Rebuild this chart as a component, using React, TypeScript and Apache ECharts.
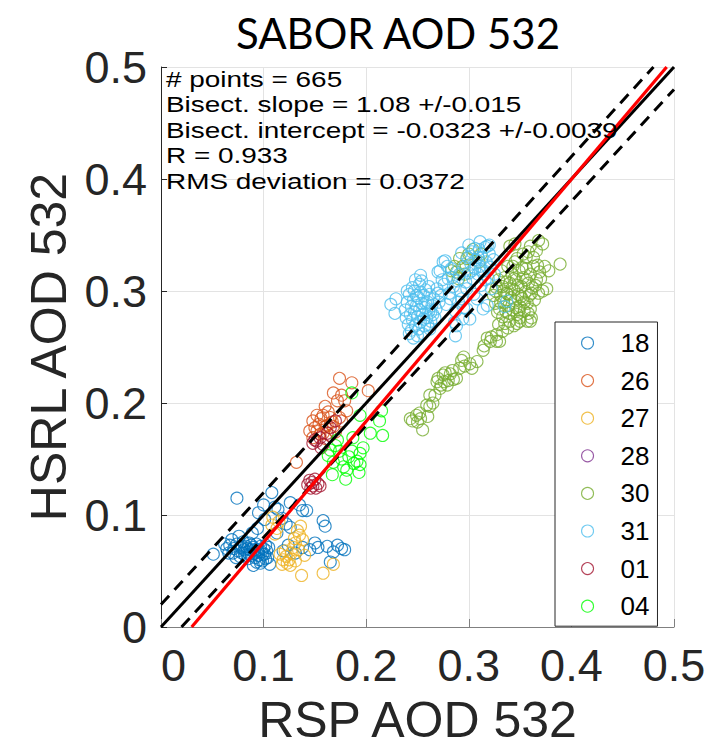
import React, { useEffect, useRef } from "react";
import * as echarts from "echarts";

// ---- data ----
const groupNames = ["18", "26", "27", "28", "30", "31", "01", "04"];
const groupColors = ["#0072BD", "#D95319", "#EDB120", "#7E2F8E", "#77AC30", "#4DBEEE", "#A2142F", "#00FF00"];

const pts18 = [
  [0.051,0.065],[0.074,0.115],[0.062,0.074],[0.064,0.070],[0.066,0.066],[0.067,0.073],[0.069,0.078],[0.070,0.066],
  [0.071,0.070],[0.073,0.062],[0.074,0.074],[0.075,0.068],[0.076,0.081],[0.077,0.063],[0.078,0.071],[0.079,0.066],
  [0.080,0.076],[0.081,0.069],[0.082,0.064],[0.083,0.072],[0.084,0.067],[0.085,0.061],[0.086,0.075],[0.087,0.069],
  [0.088,0.064],[0.089,0.084],[0.090,0.071],[0.090,0.055],[0.091,0.066],[0.092,0.062],[0.093,0.074],[0.094,0.069],
  [0.095,0.064],[0.096,0.060],[0.097,0.072],[0.098,0.067],[0.099,0.059],[0.100,0.070],[0.101,0.065],[0.102,0.073],
  [0.103,0.068],[0.104,0.062],[0.106,0.056],[0.105,0.071],[0.094,0.088],[0.095,0.102],[0.100,0.109],[0.101,0.096],
  [0.108,0.120],[0.111,0.107],[0.114,0.105],[0.118,0.097],[0.122,0.092],[0.126,0.089],[0.126,0.111],[0.135,0.109],
  [0.138,0.104],[0.142,0.104],[0.119,0.068],[0.124,0.073],[0.138,0.071],[0.145,0.069],[0.150,0.075],[0.153,0.071],
  [0.158,0.095],[0.160,0.090],[0.162,0.072],[0.165,0.058],[0.168,0.067],[0.172,0.073],[0.176,0.070],[0.179,0.069],
  [0.131,0.066],[0.113,0.084],[0.079,0.072],[0.084,0.070],[0.088,0.073],[0.091,0.069],[0.095,0.067],[0.099,0.065],
  [0.102,0.061],[0.086,0.065],[0.093,0.058],[0.097,0.057]
];
const pts26 = [
  [0.132,0.147],[0.148,0.169],[0.148,0.184],[0.150,0.178],[0.152,0.175],[0.152,0.189],[0.154,0.181],[0.155,0.172],
  [0.156,0.186],[0.158,0.173],[0.158,0.189],[0.160,0.179],[0.161,0.168],[0.162,0.180],[0.163,0.192],[0.165,0.171],
  [0.165,0.187],[0.167,0.183],[0.168,0.179],[0.168,0.209],[0.170,0.174],[0.172,0.202],[0.174,0.187],[0.174,0.222],
  [0.176,0.184],[0.176,0.207],[0.179,0.202],[0.181,0.193],[0.186,0.218],[0.202,0.211],[0.160,0.197],[0.145,0.175]
];
const pts27 = [
  [0.108,0.091],[0.109,0.098],[0.111,0.083],[0.113,0.088],[0.115,0.094],[0.116,0.065],[0.118,0.056],[0.119,0.060],
  [0.121,0.068],[0.122,0.063],[0.123,0.057],[0.125,0.060],[0.127,0.066],[0.129,0.071],[0.130,0.079],[0.131,0.075],
  [0.131,0.059],[0.133,0.086],[0.134,0.069],[0.135,0.082],[0.137,0.046],[0.138,0.078],[0.140,0.064],[0.126,0.055],
  [0.158,0.048],[0.168,0.056],[0.136,0.090]
];
const pts28: number[][] = [];
const pts30 = [
  [0.243,0.186],[0.245,0.184],[0.249,0.189],[0.250,0.183],[0.252,0.191],[0.253,0.186],[0.255,0.176],[0.259,0.198],
  [0.260,0.188],[0.262,0.207],[0.262,0.197],[0.265,0.200],[0.267,0.207],[0.269,0.219],[0.270,0.222],[0.272,0.213],
  [0.273,0.216],[0.275,0.225],[0.276,0.219],[0.277,0.227],[0.279,0.216],[0.280,0.220],[0.282,0.226],[0.284,0.229],
  [0.285,0.221],[0.288,0.222],[0.291,0.231],[0.293,0.238],[0.295,0.241],[0.296,0.233],[0.301,0.235],[0.303,0.231],
  [0.308,0.237],[0.314,0.247],[0.315,0.251],[0.318,0.258],[0.321,0.255],[0.322,0.259],[0.327,0.261],[0.327,0.255],
  [0.330,0.255],[0.333,0.264],[0.335,0.271],[0.347,0.271],[0.350,0.273],[0.357,0.273],[0.360,0.273],[0.361,0.276],
  [0.324,0.296],[0.326,0.289],[0.327,0.303],[0.328,0.281],[0.329,0.310],[0.330,0.284],[0.331,0.296],[0.332,0.318],
  [0.333,0.277],[0.333,0.304],[0.334,0.290],[0.335,0.312],[0.336,0.282],[0.337,0.298],[0.338,0.322],[0.339,0.287],
  [0.340,0.273],[0.340,0.307],[0.341,0.294],[0.342,0.315],[0.343,0.283],[0.344,0.301],[0.345,0.291],[0.345,0.326],
  [0.346,0.310],[0.347,0.279],[0.348,0.297],[0.349,0.318],[0.350,0.286],[0.350,0.276],[0.351,0.304],[0.352,0.293],
  [0.353,0.312],[0.353,0.333],[0.354,0.282],[0.355,0.299],[0.356,0.320],[0.357,0.289],[0.358,0.307],[0.359,0.296],
  [0.360,0.284],[0.360,0.315],[0.362,0.303],[0.363,0.322],[0.364,0.292],[0.366,0.336],[0.366,0.310],[0.368,0.298],
  [0.369,0.317],[0.372,0.300],[0.372,0.342],[0.376,0.302],[0.389,0.324],[0.360,0.340],[0.345,0.342],[0.340,0.340],
  [0.347,0.329],[0.356,0.330],[0.283,0.318],[0.286,0.322],[0.288,0.317],[0.291,0.329],[0.294,0.322],[0.298,0.329],
  [0.304,0.337],[0.300,0.333],[0.310,0.326],[0.312,0.333],[0.290,0.311],[0.296,0.315],
  [0.331,0.290],[0.334,0.300],[0.337,0.308],[0.339,0.280],[0.342,0.302],[0.344,0.311],[0.346,0.285],[0.348,0.305],
  [0.351,0.295],[0.352,0.321],[0.354,0.290],[0.356,0.310],[0.358,0.280],[0.361,0.298],[0.363,0.330],[0.365,0.305],
  [0.367,0.323],[0.370,0.311],[0.374,0.322],[0.378,0.318],[0.368,0.345],[0.358,0.335],[0.343,0.322],[0.338,0.297],
  [0.349,0.283],[0.326,0.300],[0.329,0.270],[0.338,0.267],[0.344,0.269]
];
const pts31 = [
  [0.224,0.288],[0.228,0.280],[0.229,0.293],[0.238,0.283],[0.239,0.276],[0.240,0.290],[0.241,0.270],[0.242,0.297],
  [0.243,0.279],[0.244,0.286],[0.244,0.265],[0.245,0.274],[0.246,0.292],[0.247,0.281],[0.247,0.300],[0.248,0.269],
  [0.249,0.287],[0.250,0.277],[0.250,0.260],[0.251,0.294],[0.252,0.283],[0.252,0.306],[0.253,0.272],[0.254,0.289],
  [0.254,0.309],[0.255,0.279],[0.255,0.262],[0.256,0.296],[0.257,0.285],[0.257,0.269],[0.258,0.301],[0.259,0.276],
  [0.260,0.290],[0.261,0.282],[0.262,0.266],[0.262,0.297],[0.263,0.273],[0.264,0.287],[0.265,0.279],[0.266,0.293],
  [0.268,0.284],[0.269,0.302],[0.270,0.317],[0.271,0.290],[0.272,0.318],[0.273,0.296],[0.275,0.326],[0.276,0.306],
  [0.277,0.327],[0.278,0.288],[0.280,0.311],[0.281,0.298],[0.282,0.293],[0.283,0.320],[0.285,0.304],[0.286,0.272],
  [0.287,0.260],[0.288,0.269],[0.289,0.309],[0.290,0.290],[0.291,0.315],[0.292,0.300],[0.294,0.275],[0.295,0.285],
  [0.296,0.322],[0.297,0.308],[0.298,0.284],[0.299,0.330],[0.300,0.316],[0.301,0.275],[0.302,0.324],[0.303,0.335],
  [0.304,0.311],[0.305,0.297],[0.306,0.320],[0.307,0.328],[0.308,0.293],[0.309,0.315],[0.310,0.337],[0.311,0.344],
  [0.311,0.322],[0.312,0.305],[0.313,0.330],[0.314,0.284],[0.315,0.318],[0.316,0.339],[0.317,0.326],[0.318,0.340],
  [0.318,0.287],[0.319,0.311],[0.320,0.333],[0.321,0.321],[0.322,0.302],[0.324,0.328],[0.325,0.315],[0.337,0.291],
  [0.335,0.286],
  [0.242,0.262],[0.246,0.258],[0.249,0.296],[0.251,0.266],[0.253,0.299],[0.256,0.275],[0.258,0.289],[0.260,0.270],
  [0.261,0.304],[0.263,0.281],[0.245,0.303],[0.248,0.310],[0.253,0.314],[0.240,0.300],[0.267,0.276],[0.270,0.298],
  [0.274,0.310],[0.279,0.322],[0.284,0.312],[0.293,0.334],[0.300,0.341],[0.306,0.338],[0.309,0.330],[0.313,0.318],
  [0.316,0.310],[0.320,0.341],[0.303,0.318],[0.298,0.302],[0.293,0.293],[0.287,0.282]
];
const pts01 = [
  [0.143,0.127],[0.145,0.131],[0.146,0.124],[0.147,0.129],[0.148,0.126],[0.150,0.132],[0.151,0.124],[0.153,0.128],
  [0.155,0.126],[0.148,0.164],[0.150,0.167],[0.152,0.166],[0.155,0.169],[0.158,0.163],[0.162,0.173],[0.165,0.178],
  [0.170,0.184],[0.156,0.160]
];
const pts04 = [
  [0.163,0.153],[0.165,0.158],[0.167,0.136],[0.168,0.147],[0.170,0.162],[0.172,0.167],[0.174,0.157],[0.176,0.150],
  [0.178,0.143],[0.181,0.140],[0.183,0.152],[0.186,0.157],[0.186,0.209],[0.187,0.169],[0.188,0.146],[0.191,0.148],
  [0.193,0.138],[0.194,0.145],[0.194,0.155],[0.194,0.189],[0.197,0.160],[0.204,0.173],[0.213,0.184],[0.215,0.193],
  [0.216,0.171],[0.180,0.132]
];
const groupPoints = [pts18, pts26, pts27, pts28, pts30, pts31, pts01, pts04];

// fit statistics
const fitSlope = 1.08;
const fitIntercept = -0.0323;
const bandOffset = 0.02;
const axisMax = 0.5;
const statsLines = [
  "# points = 665",
  "Bisect. slope = 1.08 +/-0.015",
  "Bisect. intercept = -0.0323 +/-0.0039",
  "R = 0.933",
  "RMS deviation = 0.0372",
];

const FONT = "'Liberation Sans', Arial, Helvetica, sans-serif";

export default function App() {
  const ref = useRef<HTMLDivElement>(null);
  useEffect(() => {
    document.body.style.margin = "0";
    if (!ref.current) return;
    const chart = echarts.init(ref.current, null, { renderer: "svg" });

    const scatterSeries = groupNames.map((name, i) => ({
      name,
      type: "scatter",
      data: groupPoints[i],
      symbol: "circle",
      symbolSize: 12,
      itemStyle: { color: "rgba(0,0,0,0)", borderColor: groupColors[i], borderWidth: 1.1 },
      z: 2,
    }));

    const oneToOne = [[0, 0], [axisMax, axisMax]];
    const upperBand = [[0, bandOffset], [axisMax - bandOffset, axisMax]];
    const lowerBand = [[bandOffset, 0], [axisMax, axisMax - bandOffset]];
    const fitLine = [[-fitIntercept / fitSlope, 0], [(axisMax - fitIntercept) / fitSlope, axisMax]];

    const lineSeries = (data: number[][], color: string, type: any, width: number, z: number) => ({
      type: "line",
      data,
      symbol: "none",
      silent: true,
      lineStyle: { color, width, type },
      z,
    });

    const statsTexts = statsLines.map((t, i) => ({
      type: "text",
      x: 166,
      y: 79 + i * 25.5,
      scaleX: 1.27,
      scaleY: 1,
      z: 100,
      style: {
        text: t,
        fill: "#000",
        fontSize: 22,
        fontFamily: FONT,
        lineHeight: 22,
        verticalAlign: "middle",
      },
    }));

    chart.setOption({
      animation: false,
      textStyle: { fontFamily: FONT },
      title: {
        text: "SABOR AOD 532",
        left: 393,
        top: 7,
        textAlign: "center",
        textStyle: { fontFamily: "Lato, 'Open Sans', sans-serif", fontSize: 42, fontWeight: "normal", color: "#000" },
      },
      grid: { left: 161, right: 39, top: 67, bottom: 120 },
      xAxis: {
        type: "value",
        min: 0,
        max: 0.5,
        interval: 0.1,
        name: "RSP AOD 532",
        nameLocation: "middle",
        nameGap: 68,
        nameTextStyle: { fontSize: 50, color: "#262626", fontFamily: FONT },
        axisLine: { show: true, lineStyle: { color: "#808080", width: 1 } },
        axisTick: { show: true, inside: true, length: 8, lineStyle: { color: "#808080" } },
        axisLabel: { fontSize: 45, color: "#262626", margin: 16, fontFamily: FONT, alignMinLabel: "left" },
        splitLine: { show: true, lineStyle: { color: "#e3e3e3", width: 1 } },
      },
      yAxis: {
        type: "value",
        min: 0,
        max: 0.5,
        interval: 0.1,
        name: "HSRL AOD 532",
        nameLocation: "middle",
        nameGap: 81,
        nameTextStyle: { fontSize: 50, color: "#262626", fontFamily: FONT },
        axisLine: { show: true, lineStyle: { color: "#262626", width: 1 } },
        axisTick: { show: true, inside: true, length: 6, lineStyle: { color: "#262626" } },
        axisLabel: { fontSize: 45, color: "#262626", margin: 14, fontFamily: FONT },
        splitLine: { show: true, lineStyle: { color: "#e3e3e3", width: 1 } },
      },
      legend: {
        orient: "vertical",
        left: 555,
        top: 322,
        padding: [8, 8, 7, 26],
        itemGap: 11.6,
        itemWidth: 12,
        itemHeight: 12,
        icon: "circle",
        borderColor: "#262626",
        borderWidth: 1,
        backgroundColor: "#fff",
        itemStyle: { borderWidth: 1.1 },
        textStyle: { fontSize: 26, color: "#000", lineHeight: 24, padding: [0, 0, 0, 22], fontFamily: FONT },
        data: groupNames,
      },
      graphic: statsTexts,
      series: [
        ...scatterSeries,
        lineSeries(upperBand, "#000", [12, 8], 3, 5),
        lineSeries(lowerBand, "#000", [12, 8], 3, 5),
        lineSeries(oneToOne, "#000", "solid", 3, 6),
        lineSeries(fitLine, "#ff0000", "solid", 3.2, 7),
      ],
    });
    return () => chart.dispose();
  }, []);
  return <div ref={ref} style={{ width: 713, height: 750 }} />;
}
